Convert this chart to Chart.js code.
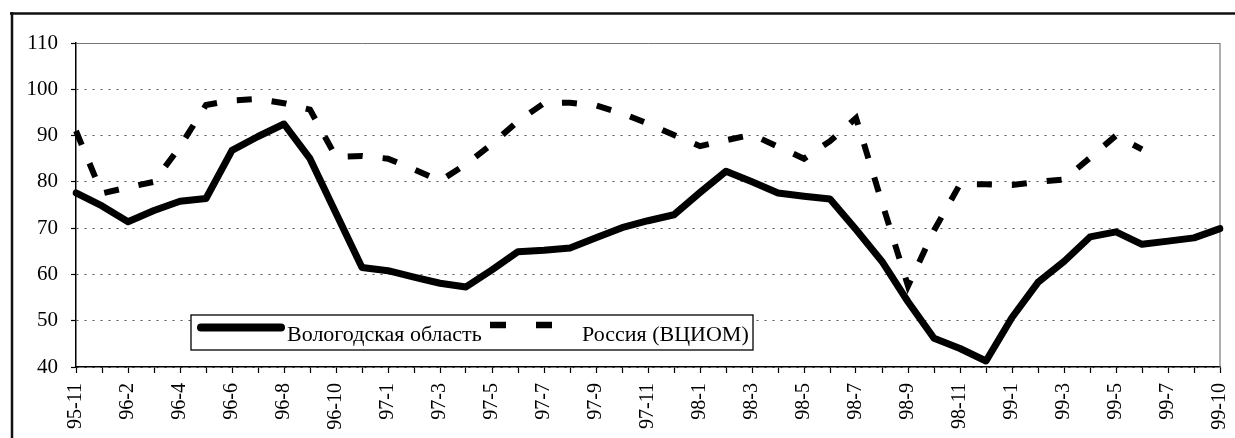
<!DOCTYPE html>
<html>
<head>
<meta charset="utf-8">
<script src="https://cdn.jsdelivr.net/npm/chart.js@4.4.1/dist/chart.umd.min.js"></script>
<style>
html,body{margin:0;padding:0;background:#fff;}
#wrap{position:relative;width:1235px;height:438px;}
canvas{display:block;}
</style>
</head>
<body>
<div id="wrap"><canvas id="c"></canvas></div>
<script>
// ---- data ----
const months = [
  '95-11','96-1','96-2','96-3','96-4','96-5','96-6','96-7','96-8','96-9','96-10','96-11',
  '97-1','97-2','97-3','97-4','97-5','97-6','97-7','97-8','97-9','97-10','97-11','97-12',
  '98-1','98-2','98-3','98-4','98-5','98-6','98-7','98-8','98-9','98-10','98-11','98-12',
  '99-1','99-2','99-3','99-4','99-5','99-6','99-7','99-8','99-10'
];
const tickLabels = [
  '95-11','96-2','96-4','96-6','96-8','96-10','97-1','97-3','97-5','97-7','97-9','97-11',
  '98-1','98-3','98-5','98-7','98-9','98-11','99-1','99-3','99-5','99-7','99-10'
];
const vologda = [
  77.6, 74.8, 71.4, 73.8, 75.8, 76.4, 86.8, 89.8, 92.5, 85.0, 73.2, 61.5,
  60.8, 59.4, 58.1, 57.3, 61.0, 64.9, 65.2, 65.7, 67.9, 70.1, 71.6, 72.9,
  77.7, 82.3, 80.0, 77.6, 76.9, 76.3, 69.7, 62.8, 54.1, 46.2, 44.0, 41.3,
  50.7, 58.3, 62.8, 68.1, 69.2, 66.5, 67.2, 67.9, 69.9
];
const russia = [
  91.0, 77.5, 78.8, 80.0, 87.6, 96.6, 97.6, 97.9, 97.0, 95.6, 85.4, 85.6,
  85.0, 82.7, 80.2, 83.8, 88.2, 93.1, 97.0, 97.1, 96.5, 94.8, 92.6, 90.1,
  87.7, 89.0, 90.2, 87.6, 85.0, 88.8, 93.8, 75.5, 57.5, 69.5, 79.5, 79.5,
  79.3, 80.0, 80.5, 85.2, 90.0, 87.0, null, null, null
];
const seriesNames = ['Вологодская область', 'Россия (ВЦИОМ)'];
const yMin = 40, yMax = 110, yStep = 10;

// ---- plugins ----
const framePlugin = {
  id: 'frame',
  beforeDraw(chart) {
    const ctx = chart.ctx;
    ctx.save();
    ctx.fillStyle = '#fff';
    ctx.fillRect(0, 0, chart.width, chart.height);
    ctx.strokeStyle = '#111';
    ctx.lineWidth = 2.5;
    ctx.beginPath();
    ctx.moveTo(10, 13.5); ctx.lineTo(chart.width, 13.5);
    ctx.moveTo(12, 12); ctx.lineTo(12, chart.height);
    ctx.stroke();
    ctx.restore();
  },
  beforeDatasetsDraw(chart) {
    const a = chart.chartArea, ctx = chart.ctx;
    ctx.save();
    ctx.strokeStyle = '#777';
    ctx.lineWidth = 1.2;
    ctx.beginPath();
    ctx.moveTo(a.right, a.top); ctx.lineTo(a.right, a.bottom);
    ctx.stroke();
    ctx.restore();
  }
};

const legendPlugin = {
  id: 'boxLegend',
  afterDraw(chart) {
    const a = chart.chartArea, ctx = chart.ctx;
    const x0 = a.left + 115, y0 = a.bottom - 52, w = 562, h = 35;
    ctx.save();
    ctx.fillStyle = '#fff';
    ctx.fillRect(x0, y0, w, h);
    ctx.strokeStyle = '#000';
    ctx.lineWidth = 1.3;
    ctx.strokeRect(x0, y0, w, h);
    const ds = chart.data.datasets;
    // solid sample
    ctx.strokeStyle = ds[0].borderColor;
    ctx.lineWidth = 8;
    ctx.lineCap = 'round';
    ctx.beginPath();
    ctx.moveTo(x0 + 10, y0 + 12.5); ctx.lineTo(x0 + 90, y0 + 12.5);
    ctx.stroke();
    // dashed sample
    ctx.lineCap = 'butt';
    ctx.lineWidth = 6.5;
    ctx.setLineDash([16, 30]);
    ctx.beginPath();
    ctx.moveTo(x0 + 299, y0 + 10); ctx.lineTo(x0 + 364, y0 + 10);
    ctx.stroke();
    ctx.setLineDash([]);
    // texts
    ctx.fillStyle = '#000';
    ctx.font = '22px "Liberation Serif"';
    ctx.textBaseline = 'alphabetic';
    ctx.textAlign = 'left';
    ctx.fillText(ds[0].label, x0 + 96, y0 + 26);
    ctx.fillText(ds[1].label, x0 + 391, y0 + 26);
    ctx.restore();
  }
};

new Chart(document.getElementById('c'), {
  type: 'line',
  data: {
    labels: months,
    datasets: [
      {
        label: seriesNames[0],
        data: vologda,
        borderColor: '#000',
        borderWidth: 7,
        borderJoinStyle: 'round',
        borderCapStyle: 'round',
        pointRadius: 0,
        tension: 0,
        fill: false
      },
      {
        label: seriesNames[1],
        data: russia,
        borderColor: '#000',
        borderWidth: 6,
        borderDash: [15, 20],
        borderCapStyle: 'butt',
        pointRadius: 0,
        tension: 0,
        fill: false,
        spanGaps: false
      }
    ]
  },
  options: {
    responsive: true,
    maintainAspectRatio: false,
    animation: false,
    devicePixelRatio: 1,
    layout: { padding: { top: 43, right: 15, left: 0, bottom: 0 } },
    plugins: { legend: { display: false }, tooltip: { enabled: false } },
    scales: {
      x: {
        type: 'category',
        offset: false,
        grid: { drawOnChartArea: false, drawTicks: true, tickLength: 6, tickColor: '#000', tickWidth: 1.2 },
        border: { display: true, color: '#000', width: 1.5 },
        ticks: {
          autoSkip: false,
          maxRotation: 90,
          minRotation: 90,
          padding: 10,
          color: '#000',
          font: { family: 'Liberation Serif', size: 20 },
          callback(value, index) {
            const l = months[index];
            return tickLabels.includes(l) ? l : '';
          }
        },
        afterFit(s) { s.height = 438 - 367; s.paddingRight = 0; s.paddingLeft = 0; }
      },
      y: {
        min: yMin,
        max: yMax,
        grid: {
          color: (c) => c.tick && c.tick.value === yMax ? '#777' : '#555',
          lineWidth: 1,
          drawTicks: true,
          tickLength: 5,
          tickColor: '#000',
          tickWidth: 1.2
        },
        border: {
          display: true, color: '#000', width: 1.5,
          dash: (c) => c.tick && c.tick.value === yMax ? [] : [2, 6]
        },
        ticks: {
          stepSize: yStep,
          padding: 13,
          color: '#000',
          font: { family: 'Liberation Serif', size: 21 }
        },
        afterFit(s) { s.width = 76; }
      }
    }
  },
  plugins: [framePlugin, legendPlugin]
});
</script>
</body>
</html>
